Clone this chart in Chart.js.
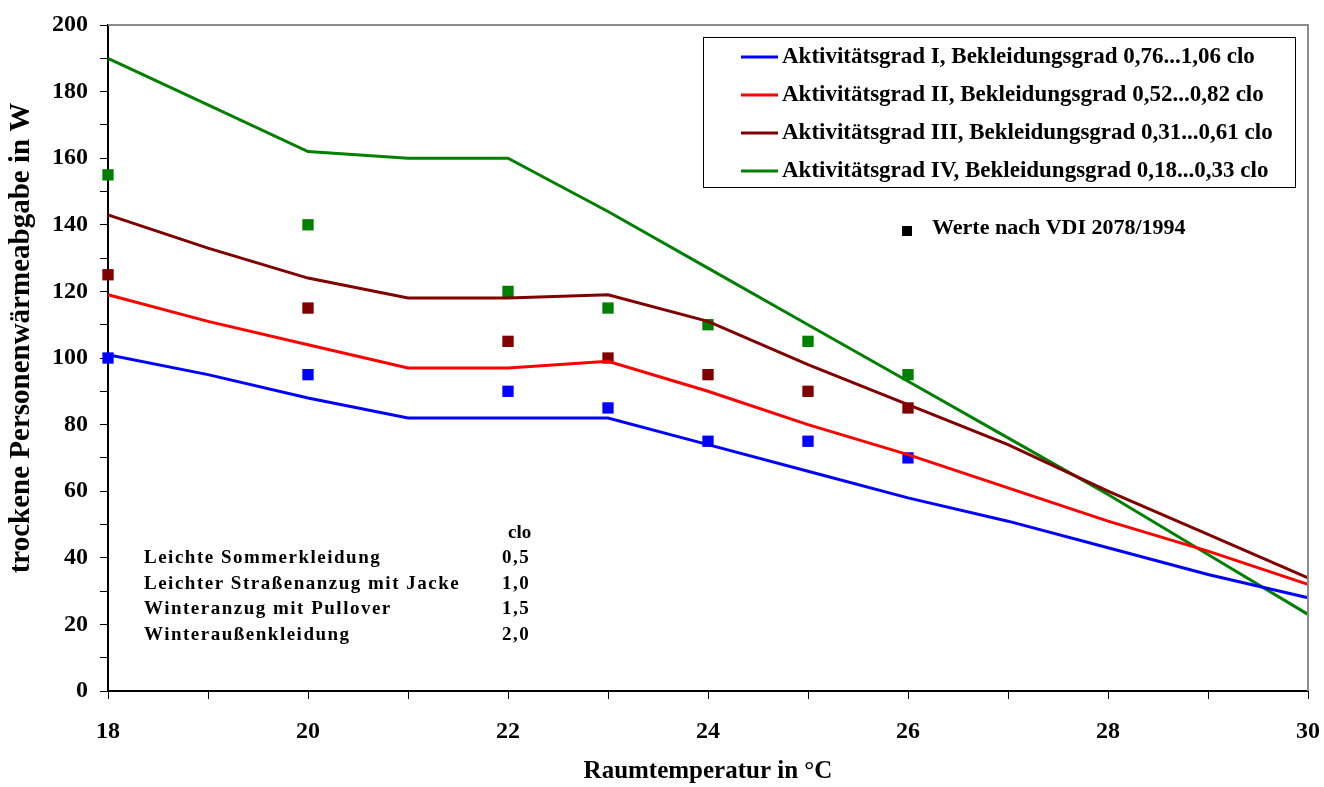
<!DOCTYPE html>
<html lang="de">
<head>
<meta charset="UTF-8">
<title>Trockene Personenwärmeabgabe</title>
<script src="https://cdn.jsdelivr.net/npm/chart.js"></script>
<style>
  html, body { margin: 0; padding: 0; background: #fff; }
  #wrap { width: 1324px; height: 787px; position: relative; }
</style>
</head>
<body>
<div id="wrap"><canvas id="chart" width="1324" height="787"></canvas></div>
<script>
// Raumtemperatur in °C
var temps = [18, 19, 20, 21, 22, 23, 24, 25, 26, 27, 28, 29, 30];

// Berechnete Kurven (W)
var gradI   = [101, 95, 88, 82, 82, 82, 74, 66, 58, 51, 43, 35, 28];
var gradII  = [119, 111, 104, 97, 97, 99, 90, 80, 71, 61, 51, 42, 32];
var gradIII = [143, 133, 124, 118, 118, 119, 111, 98, 86, 74, 60, 47, 34];
var gradIV  = [190, 176, 162, 160, 160, 144, 127, 110, 93, 76, 59, 41, 23];

// Werte nach VDI 2078/1994
var vdiTemps = [18, 20, 22, 23, 24, 25, 26];
var vdiI   = [100, 95, 90, 85, 75, 75, 70];
var vdiIII = [125, 115, 105, 100, 95, 90, 85];
var vdiIV  = [155, 140, 120, 115, 110, 105, 95];

var seriesNames = [
    'Aktivitätsgrad I, Bekleidungsgrad 0,76...1,06 clo',
    'Aktivitätsgrad II, Bekleidungsgrad 0,52...0,82 clo',
    'Aktivitätsgrad III, Bekleidungsgrad 0,31...0,61 clo',
    'Aktivitätsgrad IV, Bekleidungsgrad 0,18...0,33 clo'
];
var vdiLabel = 'Werte nach VDI 2078/1994';
var yTitle = 'trockene Personenwärmeabgabe in W';

var clothing = ['Leichte Sommerkleidung', 'Leichter Straßenanzug mit Jacke', 'Winteranzug mit Pullover', 'Winteraußenkleidung'];
var cloValues = ['0,5', '1,0', '1,5', '2,0'];

var colors = ['#0000ff', '#ff0000', '#800000', '#008000'];
var serif = '"Liberation Serif", "Times New Roman", serif';

function pts(xs, ys) {
    return xs.map(function (x, i) { return { x: x, y: ys[i] }; });
}

function lineSet(label, ys, color) {
    return {
        label: label,
        data: pts(temps, ys),
        borderColor: color,
        backgroundColor: color,
        borderWidth: 3,
        pointRadius: 0,
        tension: 0,
        clip: false
    };
}

function dotSet(ys, color) {
    return {
        label: vdiLabel,
        data: pts(vdiTemps, ys),
        showLine: false,
        pointStyle: 'rect',
        pointRadius: 8,
        pointBorderWidth: 0,
        backgroundColor: color,
        borderColor: color,
        clip: false
    };
}

// frame, legend box and text notes
var decorations = {
    id: 'decorations',
    afterDraw: function (chart) {
        var ctx = chart.ctx;
        var a = chart.chartArea;
        ctx.save();

        // grey top and right border
        ctx.strokeStyle = '#8c8c8c';
        ctx.lineWidth = 2;
        ctx.beginPath();
        ctx.moveTo(a.left, a.top);
        ctx.lineTo(a.right, a.top);
        ctx.lineTo(a.right, a.bottom);
        ctx.stroke();

        // y axis title (sits a little above centre in the original)
        ctx.fillStyle = '#000';
        ctx.font = 'bold 29px ' + serif;
        ctx.textAlign = 'center';
        ctx.textBaseline = 'middle';
        ctx.translate(22, 338);
        ctx.rotate(-Math.PI / 2);
        ctx.fillText(yTitle, 0, 0);
        ctx.setTransform(1, 0, 0, 1, 0, 0);

        // legend
        ctx.fillStyle = '#fff';
        ctx.fillRect(703, 37, 592, 150);
        ctx.strokeStyle = '#000';
        ctx.lineWidth = 1;
        ctx.strokeRect(703.5, 37.5, 592, 150);

        ctx.font = 'bold 23px ' + serif;
        ctx.textAlign = 'left';
        var rows = [57, 95, 133, 171];
        for (var i = 0; i < seriesNames.length; i++) {
            ctx.strokeStyle = colors[i];
            ctx.lineWidth = 3;
            ctx.beginPath();
            ctx.moveTo(741, rows[i]);
            ctx.lineTo(778, rows[i]);
            ctx.stroke();
            ctx.fillStyle = '#000';
            ctx.fillText(seriesNames[i], 782, rows[i]);
        }

        // VDI marker
        ctx.fillStyle = '#000';
        ctx.font = 'bold 22px ' + serif;
        ctx.fillRect(902, 226, 10, 10);
        ctx.fillText(vdiLabel, 932, 228);

        // clothing table
        ctx.font = 'bold 19px ' + serif;
        ctx.fillText('clo', 508, 533);
        ctx.letterSpacing = '1.5px';
        var trow = [558, 584, 609, 635];
        for (var j = 0; j < clothing.length; j++) {
            ctx.fillText(clothing[j], 144, trow[j]);
            ctx.fillText(cloValues[j], 502, trow[j]);
        }
        ctx.restore();
    }
};

var ctx = document.getElementById('chart').getContext('2d');
var chart = new Chart(ctx, {
    type: 'line',
    data: {
        datasets: [
            lineSet(seriesNames[0], gradI, colors[0]),
            lineSet(seriesNames[1], gradII, colors[1]),
            lineSet(seriesNames[2], gradIII, colors[2]),
            lineSet(seriesNames[3], gradIV, colors[3]),
            dotSet(vdiI, colors[0]),
            dotSet(vdiIII, colors[2]),
            dotSet(vdiIV, colors[3])
        ]
    },
    options: {
        responsive: false,
        animation: false,
        layout: { padding: { top: 25, right: 16, left: 0, bottom: 0 } },
        plugins: {
            legend: { display: false },
            tooltip: { enabled: false }
        },
        scales: {
            x: {
                type: 'linear',
                min: 18,
                max: 30,
                afterFit: function (s) {
                    s.height = 96;
                    s.paddingLeft = 0;
                    s.paddingRight = 0;
                },
                border: { color: '#000', width: 2 },
                grid: { drawOnChartArea: false, color: '#000', tickLength: 8, lineWidth: 1 },
                ticks: {
                    stepSize: 1,
                    autoSkip: false,
                    maxRotation: 0,
                    padding: 18,
                    color: '#000',
                    font: { family: serif, size: 24, weight: 'bold' },
                    callback: function (v) { return v % 2 === 0 ? v : ''; }
                },
                title: {
                    display: true,
                    text: 'Raumtemperatur in °C',
                    color: '#000',
                    font: { family: serif, size: 25, weight: 'bold' },
                    padding: { top: 0, bottom: 0 }
                }
            },
            y: {
                min: 0,
                max: 200,
                afterFit: function (s) {
                    s.width = 108;
                    s.paddingTop = 0;
                    s.paddingBottom = 0;
                },
                border: { color: '#000', width: 2 },
                grid: { drawOnChartArea: false, color: '#000', tickLength: 8, lineWidth: 1 },
                ticks: {
                    stepSize: 10,
                    autoSkip: false,
                    padding: 12,
                    color: '#000',
                    font: { family: serif, size: 24, weight: 'bold' },
                    callback: function (v) { return v % 20 === 0 ? v : ''; }
                }
            }
        }
    },
    plugins: [decorations]
});
</script>
</body>
</html>
